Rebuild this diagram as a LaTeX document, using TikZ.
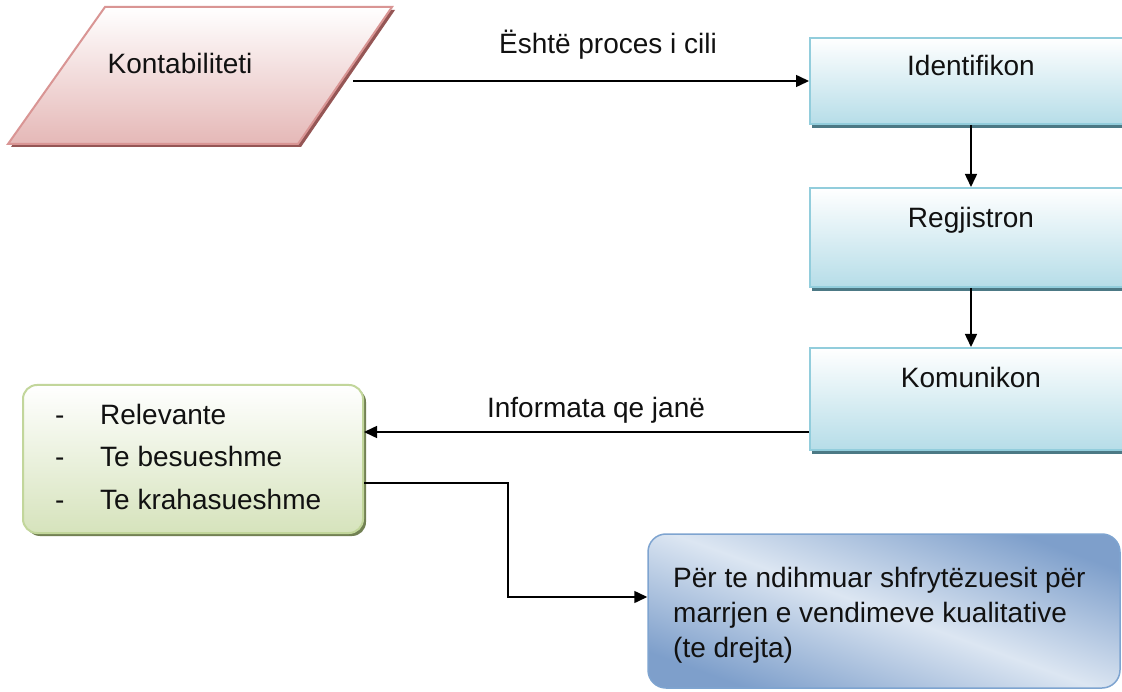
\documentclass[tikz,border=0pt]{standalone}
\usepackage{fontspec}
\setmainfont{Liberation Sans}
\usetikzlibrary{arrows.meta,shadows}
\definecolor{pinkB}{HTML}{D99594}
\definecolor{pinkF}{HTML}{E5B8B7}
\definecolor{pinkS}{HTML}{7B2C2B}
\definecolor{tealB}{HTML}{92CDDC}
\definecolor{tealF}{HTML}{B6DDE8}
\definecolor{tealS}{HTML}{205867}
\definecolor{greenB}{HTML}{C2D69B}
\definecolor{greenF}{HTML}{D6E3BC}
\definecolor{greenS}{HTML}{4F6228}
\definecolor{blueB}{HTML}{7E9FCB}
\definecolor{blueD}{HTML}{7EA4D0}
\definecolor{blueL}{HTML}{DCE6F2}
\definecolor{txt}{HTML}{111111}
\begin{document}
\begin{tikzpicture}[x=1pt,y=-1pt,
  every node/.style={font=\fontsize{28}{34}\selectfont, text=txt},
  conn/.style={line width=1.5pt, draw=black},
  arr/.style={conn, -{Triangle[length=13pt,width=12pt]}},
  procbox/.style={draw=tealB, line width=2pt, top color=white, bottom color=tealF,
    minimum width=322pt, inner sep=0pt,
    drop shadow={shadow xshift=2pt, shadow yshift=-4pt, fill=tealS, opacity=0.8}},
]
\clip (0,0) rectangle (1122,692);
\fill[white] (0,0) rectangle (1122,692);

% parallelogram
\path[draw=pinkB, line width=2pt, top color=white, bottom color=pinkF,
  drop shadow={shadow xshift=3pt, shadow yshift=-3pt, fill=pinkS, opacity=0.8}]
  (8,144) -- (105,7) -- (392,7) -- (298,144) -- cycle;
\node (kont) at (180,63) {Kontabiliteti};
\coordinate (kontR) at (353,81);

% process boxes
\node[procbox, text height=38pt, text depth=48pt] (ident) at (971,81) {Identifikon};
\node[procbox, text height=40pt, text depth=59pt] (regj) at (971,237.5) {Regjistron};
\node[procbox, text height=40pt, text depth=62pt] (komu) at (971,399) {Komunikon};

% green box
\node[draw=greenB, line width=2pt, rounded corners=14pt, top color=white, bottom color=greenF,
  minimum width=340pt, minimum height=148pt, inner sep=0pt,
  drop shadow={shadow xshift=3pt, shadow yshift=-3pt, fill=greenS, opacity=0.8}]
  (green) at (193,459) {};
\node[anchor=north west, inner sep=0pt, align=left, font=\fontsize{28}{42.5}\selectfont]
  (greentext) at (55,404)
  {\makebox[45pt][l]{-}Relevante\\\makebox[45pt][l]{-}Te besueshme\\\makebox[45pt][l]{-}Te krahasueshme};

% decision box
\node[draw=blueD, line width=1.5pt, rounded corners=18pt, top color=blueB, bottom color=blueB,
  middle color=blueL, shading angle=-20,
  minimum width=472pt, minimum height=154pt, inner sep=0pt]
  (dec) at (884,611) {};
\node[anchor=north west, inner sep=0pt, align=left, font=\fontsize{28}{35}\selectfont]
  (dectext) at (673,567)
  {Për te ndihmuar shfrytëzuesit për\\marrjen e vendimeve kualitative\\(te drejta)};

% labels
\node (lab1) at (608,45) {Është proces i cili};
\node (lab2) at (596,410) {Informata qe janë};

% connectors
\coordinate (k1) at (komu.west |- 0,432);
\coordinate (g1) at (green.east |- 0,432);
\coordinate (g2) at (green.east |- 0,483);
\coordinate (elbow) at (508,597);
\coordinate (d1) at (dec.west |- 0,597);
\draw[arr] (kontR) -- (ident);
\draw[arr] (ident) -- (regj);
\draw[arr] (regj) -- (komu);
\draw[arr] (k1) -- (g1);
\draw[arr] (g2) -| (elbow) -- (d1);
\end{tikzpicture}
\end{document}
